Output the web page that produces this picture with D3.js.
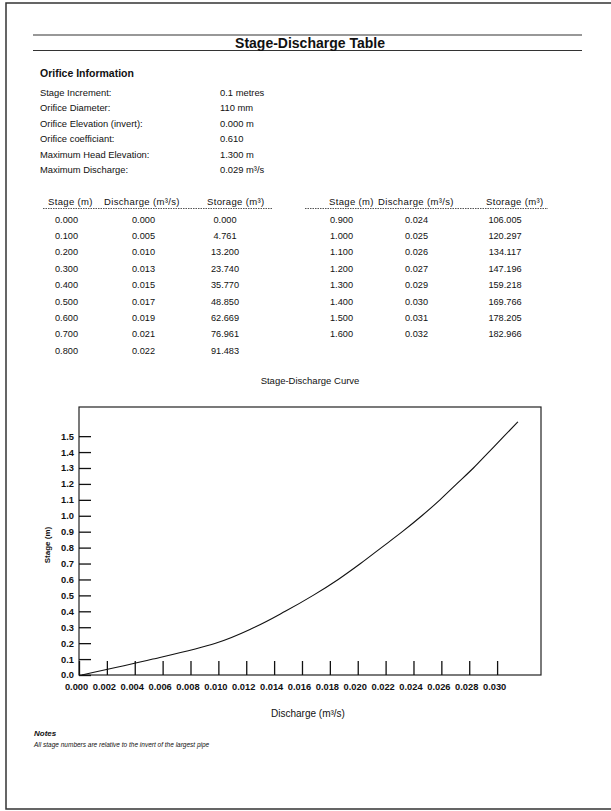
<!DOCTYPE html>
<html><head><meta charset="utf-8">
<script src="https://cdn.jsdelivr.net/npm/d3@7"></script>
<style>
body{margin:0;background:#fff}
text{font-family:"Liberation Sans",Arial,Helvetica,sans-serif;fill:#111}
</style>
</head><body>
<svg id="c" width="611" height="811"></svg>
<script>
// ---- data (table) ----
const stages = [0.0,0.1,0.2,0.3,0.4,0.5,0.6,0.7,0.8,0.9,1.0,1.1,1.2,1.3,1.4,1.5,1.6];
const discharges = [0.000,0.005,0.010,0.013,0.015,0.017,0.019,0.021,0.022,0.024,0.025,0.026,0.027,0.029,0.030,0.031,0.032];
const storages = [0.000,4.761,13.200,23.740,35.770,48.850,62.669,76.961,91.483,106.005,120.297,134.117,147.196,159.218,169.766,178.205,182.966];
// ---- data (curve) ----
const curveStages = [0.0,0.1,0.2,0.3,0.4,0.5,0.6,0.7,0.8,0.9,1.0,1.1,1.2,1.3,1.4,1.5,1.59];
const curveDischarges = [0.0002,0.0053,0.0098,0.0126,0.0148,0.0168,0.0186,0.0202,0.0217,0.0232,0.0246,0.0259,0.0271,0.0283,0.0294,0.0305,0.0315];
const infoLabels = ["Stage Increment:","Orifice Diameter:","Orifice Elevation (invert):","Orifice coefficiant:","Maximum Head Elevation:","Maximum Discharge:"];
const infoValues = ["0.1 metres","110 mm","0.000 m","0.610","1.300 m","0.029 m\u00b3/s"];
const tableHeaders = ["Stage (m)","Discharge (m\u00b3/s)","Storage (m\u00b3)"];
const xTicks = [0.000,0.002,0.004,0.006,0.008,0.010,0.012,0.014,0.016,0.018,0.020,0.022,0.024,0.026,0.028,0.030];
const yTicks = [0.0,0.1,0.2,0.3,0.4,0.5,0.6,0.7,0.8,0.9,1.0,1.1,1.2,1.3,1.4,1.5];

const svg = d3.select("#c");
const f3 = d3.format(".3f");

// page border
svg.append("path").attr("d","M611,3 H6 V809 H611").attr("fill","none").attr("stroke","#333").attr("stroke-width",1.5);

// title lines
svg.append("line").attr("x1",33).attr("x2",582).attr("y1",35).attr("y2",35).attr("stroke","#333").attr("stroke-width",1.2);
svg.append("line").attr("x1",33).attr("x2",582).attr("y1",50.5).attr("y2",50.5).attr("stroke","#333").attr("stroke-width",1.2);
svg.append("text").attr("x",310).attr("y",48).attr("text-anchor","middle")
  .attr("font-size",14).attr("font-weight","bold").text("Stage-Discharge Table");

svg.append("text").attr("x",40).attr("y",77).attr("font-size",10.5).attr("font-weight","bold").text("Orifice Information");

const infoY = [92,107.5,123,138.5,154,169];
infoLabels.forEach((l,i)=>{
  svg.append("text").attr("x",40).attr("y",infoY[i]+3.5).attr("font-size",9.4).text(l);
  svg.append("text").attr("x",220).attr("y",infoY[i]+3.5).attr("font-size",9.4).text(infoValues[i]);
});

// tables
const rows = stages.map((s,i)=>({s,d:discharges[i],v:storages[i]}));
const tables = [
  {rows: rows.slice(0,9), hx:[48,104,207], vx:[55,132,225], line:[43,273]},
  {rows: rows.slice(9), hx:[329,378,486], vx:[330,405,505], line:[305,548]}
];
tables.forEach(t=>{
  tableHeaders.forEach((h,j)=>{
    svg.append("text").attr("x",t.hx[j]).attr("y",204.5).attr("font-size",9.5).attr("letter-spacing",0.35).text(h);
  });
  svg.append("line").attr("x1",t.line[0]).attr("x2",t.line[1]).attr("y1",208.5).attr("y2",208.5)
    .attr("stroke","#555").attr("stroke-width",1).attr("stroke-dasharray","1.5,1");
  t.rows.forEach((r,i)=>{
    const y = 222.5 + i*16.4;
    svg.append("text").attr("x",t.vx[0]).attr("y",y).attr("font-size",9.2).text(f3(r.s));
    svg.append("text").attr("x",t.vx[1]).attr("y",y).attr("font-size",9.2).text(f3(r.d));
    svg.append("text").attr("x",t.vx[2]).attr("y",y).attr("font-size",9.2).attr("text-anchor","middle").text(f3(r.v));
  });
});

// chart
const L=79,R=541,T=407,B=675;
const x = d3.scaleLinear().domain([0,0.03315]).range([L,R]);
const y = d3.scaleLinear().domain([0,1.683]).range([B,T]);

svg.append("text").attr("x",310).attr("y",384).attr("text-anchor","middle").attr("font-size",9.5).text("Stage-Discharge Curve");

svg.append("rect").attr("x",L).attr("y",T).attr("width",R-L).attr("height",B-T)
  .attr("fill","none").attr("stroke","#222").attr("stroke-width",1.2);

const yAxis = d3.axisLeft(y).tickValues(yTicks).tickSize(-12).tickPadding(5).tickFormat(d3.format(".1f"));
const gy = svg.append("g").attr("transform",`translate(${L},0)`).call(yAxis);
gy.select(".domain").remove();
gy.selectAll(".tick line").attr("stroke","#111").attr("stroke-width",1.3);
gy.selectAll(".tick text").attr("font-size",9.3).attr("font-weight","bold").attr("fill","#111")
  .style("font-family",'"Liberation Sans",Arial,sans-serif');

const xAxis = d3.axisBottom(x).tickValues(xTicks).tickSize(-14).tickPadding(8).tickFormat(f3);
const gx = svg.append("g").attr("transform",`translate(0,${B})`).call(xAxis);
gx.select(".domain").remove();
gx.selectAll(".tick line").attr("stroke","#111").attr("stroke-width",1.3);
gx.selectAll(".tick text").attr("font-size",9.3).attr("font-weight","bold").attr("fill","#111").attr("dx",-3)
  .style("font-family",'"Liberation Sans",Arial,sans-serif');

svg.append("text").attr("transform","translate(50,545) rotate(-90)").attr("text-anchor","middle")
  .attr("font-size",8).attr("font-weight","bold").text("Stage (m)");
svg.append("text").attr("x",308).attr("y",717).attr("text-anchor","middle").attr("font-size",10).text("Discharge (m\u00b3/s)");

const curve = curveStages.map((s,i)=>({s,d:curveDischarges[i]}));
const line = d3.line().x(d=>x(d.d)).y(d=>y(d.s)).curve(d3.curveMonotoneY);
svg.append("path").datum(curve).attr("d",line).attr("fill","none").attr("stroke","#111").attr("stroke-width",1.1);

svg.append("text").attr("x",34).attr("y",736).attr("font-size",8).attr("font-weight","bold").attr("font-style","italic").text("Notes");
svg.append("text").attr("x",34).attr("y",747).attr("font-size",6.5).attr("font-style","italic").text("All stage numbers are relative to the invert of the largest pipe");
</script>
</body></html>
